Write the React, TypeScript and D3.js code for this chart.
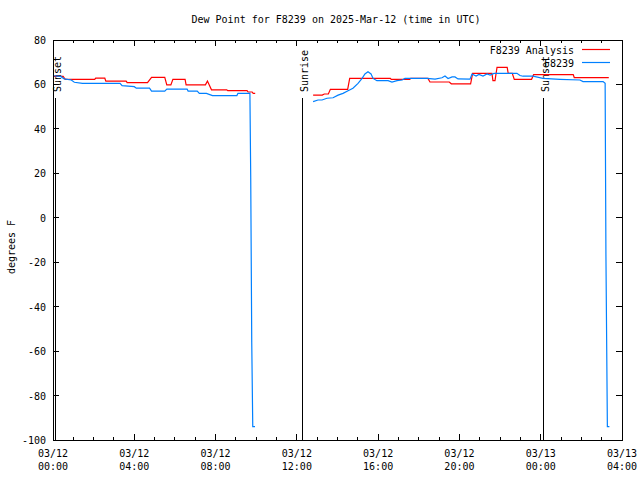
import React from "react";
import * as d3 from "d3";

// ---- data (hours since 2025-03-12 00:00 UTC, degrees F) ----
const START = Date.UTC(2025, 2, 12, 0, 0);
const END = Date.UTC(2025, 2, 13, 4, 0);

const analysisSeg1: [number, number][] = [
  [0.05, 63.6], [0.5, 63.6], [0.6, 62.3], [2.05, 62.3], [2.1, 62.8], [2.55, 62.8],
  [2.6, 61.5], [3.6, 61.5], [3.65, 60.8], [4.65, 60.8], [4.85, 63.2], [5.5, 63.2],
  [5.6, 59.8], [5.8, 59.8], [5.9, 62.3], [6.5, 62.3], [6.55, 59.8], [7.5, 59.8],
  [7.6, 61.5], [7.8, 57.6], [8.55, 57.6], [8.6, 57.2], [9.55, 57.2], [9.6, 56.6],
  [9.8, 56.6], [9.85, 56.0], [9.95, 56.0],
];

const analysisSeg2: [number, number][] = [
  [12.8, 55.2], [13.25, 55.2], [13.35, 55.7], [13.55, 55.7], [13.65, 57.8], [14.5, 57.8],
  [14.6, 62.7], [16.6, 62.7], [16.65, 62.3], [17.55, 62.3], [17.6, 62.7], [18.45, 62.7],
  [18.55, 61.1], [19.5, 61.1], [19.6, 60.3], [20.55, 60.3], [20.65, 65.0], [21.6, 65.0],
  [21.65, 61.7], [21.75, 61.7], [21.85, 67.7], [22.35, 67.7], [22.4, 65.0], [22.6, 65.0],
  [22.7, 62.3], [23.55, 62.3], [23.65, 64.4], [25.6, 64.4], [25.65, 63.1], [27.35, 63.1],
];

const stationSeg1: [number, number][] = [
  [0.05, 63.9], [0.4, 63.5], [0.55, 62.5], [0.9, 62.0], [1.05, 61.0], [1.45, 60.5],
  [3.3, 60.5], [3.4, 59.5], [4.0, 59.0], [4.1, 58.3], [4.75, 58.3], [4.85, 57.0],
  [5.5, 57.0], [5.6, 57.9], [6.6, 57.9], [6.65, 57.0], [7.1, 57.0], [7.2, 56.0],
  [7.55, 56.0], [7.85, 55.0], [9.05, 55.0], [9.1, 56.0], [9.69, 56.0], [9.73, 18.0],
  [9.78, -56.0], [9.83, -94.0], [9.94, -94.0],
];

const stationSeg2: [number, number][] = [
  [12.8, 52.3], [13.04, 53.0], [13.24, 53.0], [13.48, 53.8], [13.78, 54.0], [14.03, 55.2],
  [14.27, 56.0], [14.52, 57.2], [14.76, 58.3], [15.01, 60.5], [15.21, 62.7], [15.35, 64.7],
  [15.5, 65.7], [15.65, 64.7], [15.75, 62.7], [15.94, 61.7], [16.49, 61.7], [16.68, 61.1],
  [16.93, 61.7], [17.18, 62.0], [17.32, 62.7], [18.41, 62.7], [18.8, 62.4], [19.14, 63.0],
  [19.29, 63.8], [19.44, 62.7], [19.64, 63.4], [19.78, 63.4], [19.93, 62.5], [20.52, 62.4],
  [20.62, 64.7], [20.82, 63.8], [20.96, 64.5], [21.16, 63.8], [21.36, 64.7], [21.51, 64.2],
  [21.7, 65.0], [22.83, 65.0], [22.98, 64.0], [23.13, 63.7], [23.62, 63.7], [24.11, 62.7],
  [24.95, 62.3], [25.93, 62.0], [26.08, 61.3], [27.07, 61.3], [27.17, 60.5], [27.21, -17.5],
  [27.28, -94.0], [27.38, -94.0],
];

const sunEvents: { label: string; hour: number }[] = [
  { label: "Sunset", hour: 0.12 },
  { label: "Sunrise", hour: 12.27 },
  { label: "Sunset", hour: 24.13 },
];
const sunLineTop = 54;

const yTicks = [-100, -80, -60, -40, -20, 0, 20, 40, 60, 80];
const seriesNames = ["F8239 Analysis", "F8239"];
const seriesColors = ["#ff0000", "#0080ff"];

const TITLE = "Dew Point for F8239 on 2025-Mar-12 (time in UTC)";
const Y_LABEL = "degrees F";

const FONT = "'DejaVu Sans Mono', monospace";

export default function App() {
  const W = 640, H = 480;
  const L = 53, R = 622, T = 40, B = 440;
  const x = d3.scaleUtc().domain([new Date(START), new Date(END)]).range([L, R]);
  const y = d3.scaleLinear().domain([-100, 80]).range([B, T]);
  const hx = (h: number) => x(new Date(START + h * 3600e3));

  const line = d3
    .line<[number, number]>()
    .x((d) => hx(d[0]))
    .y((d) => y(d[1]));

  const majorTicks = d3.utcHour.every(4)!.range(new Date(START), new Date(END + 1));
  const minorTicks = d3.utcHour.every(1)!.range(new Date(START), new Date(END + 1));
  const fmtDate = d3.utcFormat("%m/%d");
  const fmtTime = d3.utcFormat("%H:%M");

  return (
    <svg
      width={W}
      height={H}
      style={{ position: "absolute", left: 0, top: 0, background: "#fff" }}
      fontFamily={FONT}
      fontSize={10}
    >
      <rect x={0} y={0} width={W} height={H} fill="#fff" />
      {/* title */}
      <text x={336} y={23} textAnchor="middle" fill="#000">{TITLE}</text>
      {/* y label */}
      <text transform={`translate(15,247) rotate(-90)`} textAnchor="middle" fill="#000">{Y_LABEL}</text>

      {/* y ticks */}
      {yTicks.map((v) => (
        <g key={"y" + v}>
          <line x1={L} x2={L + 6} y1={y(v)} y2={y(v)} stroke="#000" shapeRendering="crispEdges" />
          <line x1={R} x2={R - 6} y1={y(v)} y2={y(v)} stroke="#000" shapeRendering="crispEdges" />
          <text x={46} y={y(v) + 4} textAnchor="end" fill="#000">{v}</text>
        </g>
      ))}

      {/* x ticks */}
      {minorTicks.map((d, i) => (
        <g key={"mx" + i}>
          <line x1={x(d)} x2={x(d)} y1={B} y2={B - 3} stroke="#000" shapeRendering="crispEdges" />
          <line x1={x(d)} x2={x(d)} y1={T} y2={T + 3} stroke="#000" shapeRendering="crispEdges" />
        </g>
      ))}
      {majorTicks.map((d, i) => (
        <g key={"Mx" + i}>
          <line x1={x(d)} x2={x(d)} y1={B} y2={B - 6} stroke="#000" shapeRendering="crispEdges" />
          <line x1={x(d)} x2={x(d)} y1={T} y2={T + 6} stroke="#000" shapeRendering="crispEdges" />
          <text x={x(d)} y={457} textAnchor="middle" fill="#000">{fmtDate(d)}</text>
          <text x={x(d)} y={470} textAnchor="middle" fill="#000">{fmtTime(d)}</text>
        </g>
      ))}

      {/* sun events */}
      {sunEvents.map((s, i) => (
        <g key={"s" + i}>
          <line x1={hx(s.hour)} x2={hx(s.hour)} y1={y(sunLineTop)} y2={B} stroke="#000" shapeRendering="crispEdges" />
          <text transform={`translate(${hx(s.hour) + 6},92) rotate(-90)`} textAnchor="start" fill="#000">{s.label}</text>
        </g>
      ))}

      {/* series */}
      <path d={line(analysisSeg1) || ""} fill="none" stroke={seriesColors[0]} strokeWidth={1.2} />
      <path d={line(analysisSeg2) || ""} fill="none" stroke={seriesColors[0]} strokeWidth={1.2} />
      <path d={line(stationSeg1) || ""} fill="none" stroke={seriesColors[1]} strokeWidth={1.2} />
      <path d={line(stationSeg2) || ""} fill="none" stroke={seriesColors[1]} strokeWidth={1.2} />

      {/* legend */}
      {seriesNames.map((n, i) => (
        <g key={"lg" + i}>
          <text x={574} y={54 + i * 13} textAnchor="end" fill="#000">{n}</text>
          <line x1={582} x2={610} y1={49.5 + i * 13} y2={49.5 + i * 13} stroke={seriesColors[i]} strokeWidth={1.2} />
        </g>
      ))}

      {/* frame */}
      <rect x={L} y={T} width={R - L} height={B - T} fill="none" stroke="#000" shapeRendering="crispEdges" />
    </svg>
  );
}
